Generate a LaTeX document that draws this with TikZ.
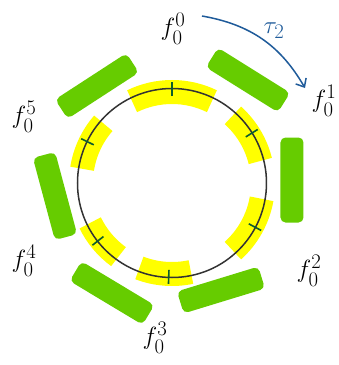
\documentclass[tikz,border=0pt]{standalone}
\usepackage{amsmath,amssymb}
\usepackage{tikz}
\usetikzlibrary{arrows.meta,calc,positioning}

\definecolor{barGreen}{HTML}{66CC00}
\definecolor{patchYellow}{HTML}{FFFF00}
\definecolor{tickGreen}{HTML}{0B5D2E}
\definecolor{arrowBlue}{HTML}{1F5B9A}
\definecolor{ringGray}{HTML}{333333}

\begin{document}
\begin{tikzpicture}[x=1pt,y=1pt,
    gbar/.style={fill=barGreen,rounded corners=5pt,minimum width=85pt,
      minimum height=23pt,inner sep=0pt},
    patch/.style={patchYellow,line width=24pt},
    tick/.style={tickGreen,line width=1.6pt},
    lbl/.style={font=\fontsize{28}{32}\selectfont,inner sep=1pt}]
    \useasboundingbox (-172,-182) rectangle (167,183);
    % yellow patches under the ring
    \draw[patch] (116:91) arc (116:64:91);
    \draw[patch] (48:91) arc (48:14:91);
    \draw[patch] (-10:91) arc (-10:-48:91);
    \draw[patch] (-78:91) arc (-78:-111:91);
    \draw[patch] (-126:91) arc (-126:-154:91);
    \draw[patch] (139:91) arc (139:171:91);
    \node[circle,draw=ringGray,line width=1.5pt,minimum size=189pt,inner sep=0pt]
      (ring) at (0,0) {};
    \draw[tick] (90:87)--(90:101);
    \draw[tick] (32:87)--(32:101);
    \draw[tick] (-28:87)--(-28:101);
    \draw[tick] (-92:87)--(-92:101);
    \draw[tick] (-142:87)--(-142:101);
    \draw[tick] (154:87)--(154:101);
    % green bars
    \node[gbar,rotate=-32] (b1) at (76,103) {};
    \node[gbar,rotate=-90] (b2) at (120,3) {};
    \node[gbar,rotate=17] (b3) at (49,-107) {};
    \node[gbar,rotate=-31] (b4) at (-60,-110) {};
    \node[gbar,rotate=105] (b5) at (-117,-13) {};
    \node[gbar,rotate=33] (b6) at (-75,97) {};
    % labels
    \node[lbl] (f0) at (1,154) {$f_0^0$};
    \node[lbl] (f1) at (152,82) {$f_0^1$};
    \node[lbl] (f2) at (137,-88) {$f_0^2$};
    \node[lbl] (f3) at (-17,-155) {$f_0^3$};
    \node[lbl] (f4) at (-148,-78) {$f_0^4$};
    \node[lbl] (f5) at (-148,66) {$f_0^5$};
    % rotation arrow
    \coordinate (arrS) at (30,167);
    \coordinate (arrE) at (133,95);
    \draw[arrowBlue,line width=1.5pt,-{Straight Barb[length=7pt,width=12pt]}]
      (arrS) to[bend left=25] (arrE);
    \node[lbl,text=arrowBlue] (tau) at (102,152) {$\tau_2$};
  \end{tikzpicture}
\end{document}
